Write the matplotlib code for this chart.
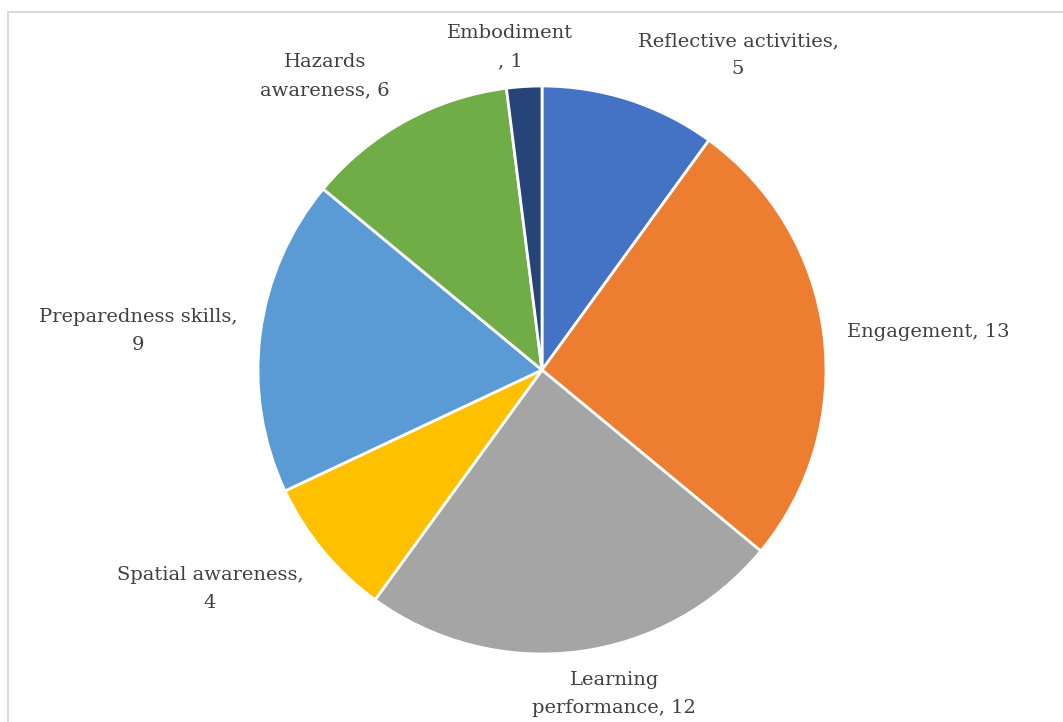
import matplotlib
matplotlib.use("Agg")
import matplotlib.pyplot as plt
from matplotlib.patches import Rectangle

categories = ["Reflective activities", "Engagement", "Learning performance",
              "Spatial awareness", "Preparedness skills", "Hazards awareness",
              "Embodiment"]
values = [5, 13, 12, 4, 9, 6, 1]
colors = ["#4472C4", "#ED7D31", "#A5A5A5", "#FFC000", "#5B9BD5", "#70AD47", "#264478"]

# label text: category name followed by value, wrapped the way the labels break
label_texts = [
    "Reflective activities,\n5",
    "Engagement, 13",
    "Learning\nperformance, 12",
    "Spatial awareness,\n4",
    "Preparedness skills,\n9",
    "Hazards\nawareness, 6",
    "Embodiment\n, 1",
]
# label centres in units of the pie radius
label_pos = [(0.69, 1.11), (1.359, 0.134), (0.254, -1.141), (-1.169, -0.771),
             (-1.423, 0.137), (-0.764, 1.035), (-0.113, 1.137)]

W, H = 1063, 722
cx, cy, R = 542, 370, 284

fig = plt.figure(figsize=(W / 100, H / 100), dpi=100)
ax = fig.add_axes([0, 0, 1, 1])
ax.axis("off")

ax.pie(values, colors=colors, startangle=90, counterclock=False, radius=1.0,
       wedgeprops=dict(edgecolor="white", linewidth=2.0), center=(0, 0),
       frame=False)
ax.set_xlim(-cx / R, (W - cx) / R)
ax.set_ylim(-(H - cy) / R, cy / R)
ax.set_aspect("auto")

for txt, (x, y) in zip(label_texts, label_pos):
    ax.text(x, y, txt, ha="center", va="center", fontsize=14,
            family="DejaVu Serif", color="#404040", linespacing=1.7)

# light frame around the chart area
fig.patches.append(Rectangle((8 / W, -0.05), 1.2, 1 - 12 / H + 0.05,
                             transform=fig.transFigure, fill=False,
                             edgecolor="#d9d9d9", linewidth=1.4))

fig.savefig("out.png", dpi=100)
